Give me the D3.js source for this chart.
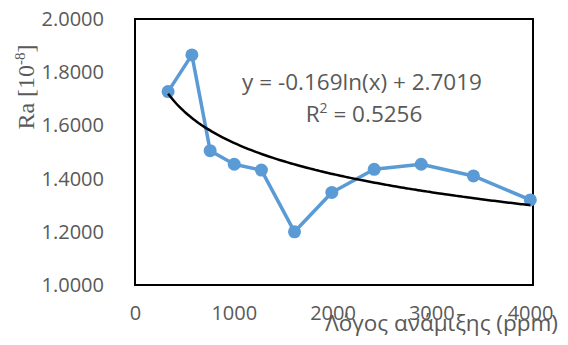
<!DOCTYPE html>
<html>
<head>
<meta charset="utf-8">
<script src="https://cdn.jsdelivr.net/npm/d3@7"></script>
<style>
  body { margin: 0; background: #fff; }
  .axis text { font-family: "Open Sans", sans-serif; font-size: 20px; fill: #595959; }
</style>
</head>
<body>
<svg id="chart" width="568" height="345"></svg>
<script>
// mixing ratio (ppm) vs Ra
var mixRatio = [335, 576, 761, 1005, 1280, 1615, 1993, 2422, 2898, 3427, 4003];
var raValues = [1.727, 1.865, 1.505, 1.454, 1.432, 1.200, 1.348, 1.435, 1.454, 1.410, 1.320];
var xTicks = [0, 1000, 2000, 3000, 4000];
var yTicks = [1.0, 1.2, 1.4, 1.6, 1.8, 2.0];
var trendA = -0.169, trendB = 2.7019;
var equationText = "y = -0.169ln(x) + 2.7019";
var r2Text = "0.5256";

var svg = d3.select("#chart");
var margin = {left: 135, top: 19, right: 35, bottom: 60};
var width = 568 - margin.left - margin.right,
    height = 345 - margin.top - margin.bottom;

var x = d3.scaleLinear().domain([0, 4030]).range([0, width]);
var y = d3.scaleLinear().domain([1, 2]).range([height, 0]);

var g = svg.append("g")
    .attr("transform", "translate(" + margin.left + "," + margin.top + ")");

// y axis labels
var yAxis = g.append("g")
    .attr("class", "axis")
    .attr("transform", "translate(-28,0)")
    .call(d3.axisLeft(y).tickValues(yTicks).tickSize(0).tickFormat(d3.format(".4f")));
yAxis.select(".domain").remove();

// x axis labels
var xAxis = g.append("g")
    .attr("class", "axis")
    .attr("transform", "translate(0," + (height + 18) + ")")
    .call(d3.axisBottom(x).tickValues(xTicks).tickSize(0).tickFormat(d3.format("d")));
xAxis.select(".domain").remove();

// plot area border
g.append("rect")
    .attr("width", width)
    .attr("height", height)
    .attr("fill", "none")
    .attr("stroke", "#000")
    .attr("stroke-width", 2);

// data line
var data = mixRatio.map(function(d, i) { return {x: d, y: raValues[i]}; });

g.append("path")
    .datum(data)
    .attr("fill", "none")
    .attr("stroke", "#5B9BD5")
    .attr("stroke-width", 3.5)
    .attr("stroke-linejoin", "round")
    .attr("d", d3.line().x(function(d) { return x(d.x); }).y(function(d) { return y(d.y); }));

g.selectAll(".dot")
    .data(data)
    .enter().append("circle")
    .attr("class", "dot")
    .attr("cx", function(d) { return x(d.x); })
    .attr("cy", function(d) { return y(d.y); })
    .attr("r", 6.5)
    .attr("fill", "#5B9BD5");

// log trendline
var xMin = d3.min(mixRatio), xMax = d3.max(mixRatio);
var trend = d3.range(0, 101).map(function(i) {
    var xv = xMin + (xMax - xMin) * i / 100;
    return {x: xv, y: trendA * Math.log(xv) + trendB};
});
g.append("path")
    .datum(trend)
    .attr("fill", "none")
    .attr("stroke", "#000")
    .attr("stroke-width", 2.5)
    .attr("d", d3.line().curve(d3.curveBasis).x(function(d) { return x(d.x); }).y(function(d) { return y(d.y); }));

// equation label
svg.append("text")
    .attr("x", 362)
    .attr("y", 90)
    .attr("text-anchor", "middle")
    .style("font-family", "Open Sans, sans-serif")
    .style("font-size", "22.5px")
    .attr("fill", "#595959")
    .text(equationText);

var r2 = svg.append("text")
    .attr("x", 364)
    .attr("y", 122)
    .attr("text-anchor", "middle")
    .style("font-family", "Open Sans, sans-serif")
    .style("font-size", "22.5px")
    .attr("fill", "#595959");
r2.append("tspan").text("R");
r2.append("tspan").attr("dy", -9).style("font-size", "14px").text("2");
r2.append("tspan").attr("dy", 9).text(" = " + r2Text);

// axis titles
var yTitle = svg.append("text")
    .attr("transform", "translate(34,87) rotate(-90)")
    .attr("text-anchor", "middle")
    .style("font-family", "Liberation Serif, Times New Roman, serif")
    .style("font-size", "24px")
    .attr("fill", "#595959");
yTitle.append("tspan").text("Ra [10");
yTitle.append("tspan").attr("dy", -9).style("font-size", "15px").text("-8");
yTitle.append("tspan").attr("dy", 9).text("]");

svg.append("text")
    .attr("x", 558)
    .attr("y", 331)
    .attr("text-anchor", "end")
    .style("font-family", "Open Sans, sans-serif")
    .style("font-size", "22.5px")
    .attr("fill", "#595959")
    .text("Λόγος ανάμιξης (ppm)");
</script>
</body>
</html>
